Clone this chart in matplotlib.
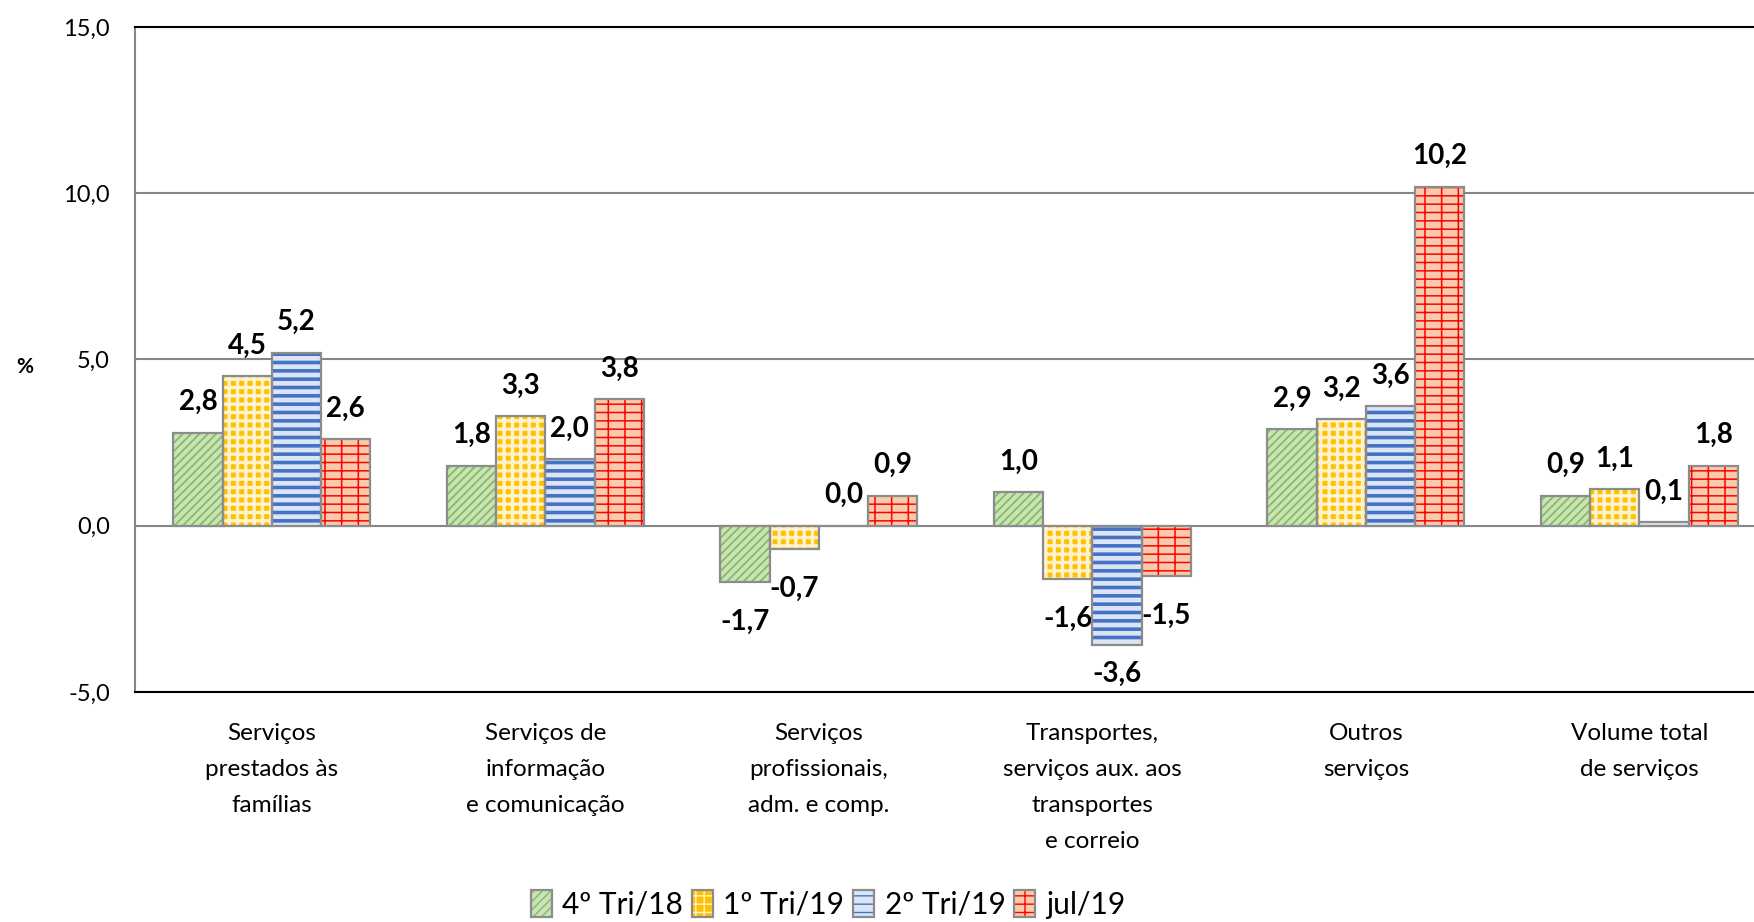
import matplotlib.pyplot as plt
from matplotlib.legend_handler import HandlerTuple
import numpy as np

# dados do gráfico
categorias = ["Serviços\nprestados às\nfamílias",
              "Serviços de\ninformação\ne comunicação",
              "Serviços\nprofissionais,\nadm. e comp.",
              "Transportes,\nserviços aux. aos\ntransportes\ne correio",
              "Outros\nserviços",
              "Volume total\nde serviços"]
series = ["4º Tri/18", "1º Tri/19", "2º Tri/19", "jul/19"]
tri4_18 = [2.8, 1.8, -1.7, 1.0, 2.9, 0.9]
tri1_19 = [4.5, 3.3, -0.7, -1.6, 3.2, 1.1]
tri2_19 = [5.2, 2.0, 0.0, -3.6, 3.6, 0.1]
jul_19 = [2.6, 3.8, 0.9, -1.5, 10.2, 1.8]
yticks = [-5, 0, 5, 10, 15]

plt.rcParams['font.family'] = ['Lato', 'DejaVu Sans']

# (fundo, cor da hachura, hachura, espessura)
estilos = [
    ("#c9e2b8", "#86bb62", "////", 1.3),
    ("#ffc000", "#fff2cc", "++", 2.4),
    ("#dce5f4", "#4472c4", "--", 2.6),
    ("#f8cbad", "#ff0000", "--|", 1.1),
]

fig = plt.figure(figsize=(17.54, 9.22), dpi=100)
ax = fig.add_axes([0.077, 0.2495, 0.9356, 0.7213])

x = np.arange(len(categorias))
largura = 0.18
handles = []
for i, (valores, (face, cor, hatch, lw)) in enumerate(zip([tri4_18, tri1_19, tri2_19, jul_19], estilos)):
    pos = x + (i - 1.5) * largura
    with plt.rc_context({'hatch.linewidth': lw}):
        b1 = ax.bar(pos, valores, largura, color=face, edgecolor=cor,
                    hatch=hatch, linewidth=0, zorder=2)
    b2 = ax.bar(pos, valores, largura, fill=False, edgecolor="#8c8c8c",
                linewidth=1.6, zorder=3)
    handles.append((b1[0], b2[0]))
    # rótulos de dados (negativos abaixo da barra, sem passar do eixo)
    for xp, v in zip(pos, valores):
        texto = f"{v:.1f}".replace(".", ",")
        if v >= 0:
            ax.annotate(texto, (xp, v), xytext=(0, 22), textcoords="offset points",
                        ha="center", va="center", fontsize=20, fontweight="bold")
        else:
            ax.text(xp, max(v - 1.2, -4.45), texto, ha="center", va="center",
                    fontsize=20, fontweight="bold")

ax.set_xlim(-0.5, 5.5)
ax.set_ylim(-5, 15)
ax.set_yticks(yticks, [f"{t:.1f}".replace(".", ",") for t in yticks])
ax.set_xticks(x, categorias)
for lbl in ax.get_xticklabels():
    lbl.set_linespacing(1.9)
ax.tick_params(axis="y", length=0, labelsize=17, pad=18)
ax.tick_params(axis="x", length=0, labelsize=17.5, pad=22)

ax.yaxis.grid(True, color="#868686", linewidth=1.5)
ax.set_axisbelow(True)
ax.spines["top"].set_color("black")
ax.spines["bottom"].set_color("black")
ax.spines["top"].set_linewidth(1.5)
ax.spines["bottom"].set_linewidth(1.5)
ax.spines["left"].set_color("#868686")
ax.spines["left"].set_linewidth(1.5)
ax.spines["right"].set_visible(False)

fig.text(25 / 1754, 1 - 367 / 922, "%", fontsize=15, fontweight="bold",
         ha="center", va="center")

fig.legend(handles, series, loc="center", bbox_to_anchor=(0.472, 0.019),
           ncol=4, frameon=False, fontsize=21.5, handlelength=0.7,
           handleheight=1.0, handletextpad=0.35, columnspacing=0.3,
           handler_map={tuple: HandlerTuple(ndivide=1, pad=0)})

fig.savefig("out.png", dpi=100)
